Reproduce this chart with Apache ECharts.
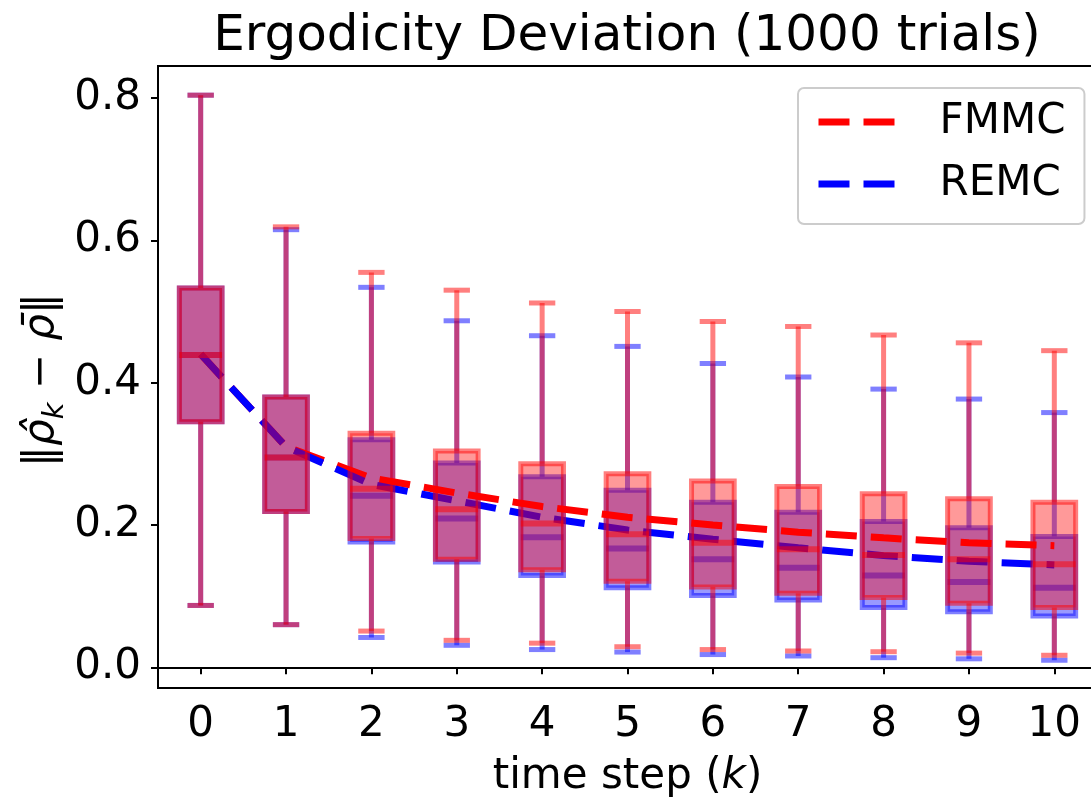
<!DOCTYPE html>
<html>
<head>
<meta charset="utf-8">
<script src="https://cdn.jsdelivr.net/npm/echarts@6/dist/echarts.min.js"></script>
<style>
  html, body { margin: 0; padding: 0; background: #fff; }
  #chart { width: 1091px; height: 801px; }
</style>
</head>
<body>
<div id="chart"></div>
<script>
const steps = ["0", "1", "2", "3", "4", "5", "6", "7", "8", "9", "10"];
const yTicks = [0, 0.2, 0.4, 0.6, 0.8];

// FMMC (red) box statistics per time step
const fmmcLow = [0.087, 0.060, 0.051, 0.038, 0.034, 0.029, 0.025, 0.023, 0.022, 0.020, 0.017];
const fmmcQ1 = [0.345, 0.219, 0.181, 0.152, 0.137, 0.121, 0.113, 0.104, 0.098, 0.090, 0.084];
const fmmcMedian = [0.439, 0.295, 0.251, 0.222, 0.202, 0.187, 0.175, 0.166, 0.158, 0.152, 0.145];
const fmmcQ3 = [0.533, 0.380, 0.329, 0.304, 0.286, 0.272, 0.262, 0.254, 0.244, 0.237, 0.232];
const fmmcHigh = [0.804, 0.619, 0.555, 0.530, 0.512, 0.500, 0.486, 0.479, 0.467, 0.456, 0.445];
const fmmcMean = [0.440, 0.310, 0.266, 0.245, 0.226, 0.211, 0.200, 0.190, 0.182, 0.175, 0.171];

// REMC (blue) box statistics per time step
const remcLow = [0.087, 0.060, 0.042, 0.031, 0.025, 0.0215, 0.018, 0.016, 0.0136, 0.012, 0.010];
const remcQ1 = [0.345, 0.219, 0.176, 0.148, 0.129, 0.112, 0.101, 0.0945, 0.084, 0.078, 0.072];
const remcMedian = [0.439, 0.295, 0.241, 0.209, 0.183, 0.167, 0.152, 0.140, 0.129, 0.120, 0.112];
const remcQ3 = [0.533, 0.380, 0.320, 0.287, 0.268, 0.249, 0.232, 0.218, 0.205, 0.196, 0.184];
const remcHigh = [0.804, 0.615, 0.534, 0.487, 0.466, 0.451, 0.427, 0.408, 0.391, 0.377, 0.358];
const remcMean = [0.440, 0.310, 0.257, 0.234, 0.211, 0.193, 0.180, 0.168, 0.157, 0.149, 0.144];

const FONT = "DejaVu Sans";

const toRows = (low, q1, med, q3, high) =>
  steps.map((s, i) => [i, low[i], q1[i], med[i], q3[i], high[i]]);

// box + whiskers drawn like matplotlib boxplot (half-transparent)
const boxRenderer = (rgb) => (params, api) => {
  const idx = api.value(0);
  const low = api.coord([idx, api.value(1)]);
  const q1 = api.coord([idx, api.value(2)]);
  const med = api.coord([idx, api.value(3)]);
  const q3 = api.coord([idx, api.value(4)]);
  const high = api.coord([idx, api.value(5)]);
  const band = api.size([1, 0])[0];
  const half = band * 0.25;
  const capHalf = band * 0.125;
  const cx = low[0];
  const edge = `rgba(${rgb},0.5)`;
  const fill = `rgba(${rgb},0.4)`;
  const line = (x1, y1, x2, y2, w) => ({
    type: "line",
    shape: { x1, y1, x2, y2 },
    style: { stroke: edge, lineWidth: w, lineCap: "butt" },
  });
  return {
    type: "group",
    children: [
      {
        type: "rect",
        shape: { x: cx - half, y: q3[1], width: half * 2, height: q1[1] - q3[1] },
        style: { fill, stroke: edge, lineWidth: 5 },
      },
      line(cx, q3[1], cx, high[1], 5),
      line(cx, q1[1], cx, low[1], 5),
      line(cx - capHalf - 2.5, high[1], cx + capHalf + 2.5, high[1], 5),
      line(cx - capHalf - 2.5, low[1], cx + capHalf + 2.5, low[1], 5),
      line(cx - half, med[1], cx + half, med[1], 6),
    ],
  };
};

const chart = echarts.init(document.getElementById("chart"), null, { renderer: "canvas" });

const option = {
  animation: false,
  backgroundColor: "#ffffff",
  textStyle: { fontFamily: FONT },
  grid: {
    left: 158,
    top: 66,
    width: 939,
    height: 622,
    show: true,
    borderColor: "#000",
    borderWidth: 2,
    backgroundColor: "transparent",
    outerBoundsMode: "none",
  },
  legend: {
    orient: "vertical",
    left: 798,
    top: 88,
    padding: [13, 19, 19, 17],
    itemGap: 20,
    itemWidth: 76,
    itemHeight: 16,
    backgroundColor: "rgba(255,255,255,0.8)",
    borderColor: "#cccccc",
    borderWidth: 2,
    borderRadius: 6,
    selectedMode: false,
    data: ["FMMC", "REMC"],
    itemStyle: { opacity: 0 },
    lineStyle: { width: 7, type: [31, 14] },
    textStyle: {
      fontFamily: FONT,
      fontSize: 42,
      color: "#000",
      lineHeight: 42,
      padding: [0, 0, 0, 40],
    },
  },
  xAxis: {
    type: "category",
    data: steps,
    boundaryGap: true,
    name: "time step ({i|k})",
    nameLocation: "middle",
    nameGap: 68,
    nameTextStyle: {
      fontFamily: FONT,
      fontSize: 42,
      color: "#000",
      rich: {
        i: { fontFamily: FONT, fontSize: 42, fontStyle: "italic", color: "#000" },
      },
    },
    axisLine: { show: true, lineStyle: { color: "#000", width: 2 } },
    axisTick: { show: true, alignWithLabel: true, length: 7, lineStyle: { color: "#000", width: 2 } },
    axisLabel: { fontFamily: FONT, fontSize: 42, color: "#000", margin: 16 },
    splitLine: { show: false },
  },
  yAxis: {
    type: "value",
    min: -0.029,
    max: 0.845,
    axisLine: { show: true, lineStyle: { color: "#000", width: 2 } },
    axisTick: {
      show: true,
      length: 7,
      customValues: yTicks,
      lineStyle: { color: "#000", width: 2 },
    },
    axisLabel: {
      fontFamily: FONT,
      fontSize: 42,
      color: "#000",
      margin: 17,
      customValues: yTicks,
      formatter: (v) => v.toFixed(1),
    },
    splitLine: { show: false },
  },
  series: [
    {
      name: "REMC box",
      type: "custom",
      renderItem: boxRenderer("0,0,255"),
      encode: { x: 0, y: [1, 2, 3, 4, 5] },
      data: toRows(remcLow, remcQ1, remcMedian, remcQ3, remcHigh),
      z: 2,
    },
    {
      name: "FMMC",
      type: "line",
      data: fmmcMean,
      symbol: "none",
      color: "#ff0000",
      lineStyle: { color: "#ff0000", width: 7, type: [31, 14] },
      z: 3,
    },
    {
      name: "REMC",
      type: "line",
      data: remcMean,
      symbol: "none",
      color: "#0000ff",
      lineStyle: { color: "#0000ff", width: 7, type: [31, 14] },
      z: 4,
    },
    {
      name: "FMMC box",
      type: "custom",
      renderItem: boxRenderer("255,0,0"),
      encode: { x: 0, y: [1, 2, 3, 4, 5] },
      data: toRows(fmmcLow, fmmcQ1, fmmcMedian, fmmcQ3, fmmcHigh),
      z: 5,
    },
  ],
  graphic: [
    {
      type: "text",
      x: 627,
      y: 37,
      style: {
        text: "Ergodicity Deviation (1000 trials)",
        fontFamily: FONT,
        fontSize: 50,
        fill: "#000",
        align: "center",
        verticalAlign: "middle",
      },
    },
    {
      type: "text",
      x: 42,
      y: 380,
      rotation: Math.PI / 2,
      style: {
        text: "{a|‖}{r|ρ\u0302}{s|k}{a| − }{r|ρ\u0304}{a|‖}",
        align: "center",
        verticalAlign: "middle",
        rich: {
          a: { fontFamily: FONT, fontSize: 42, fill: "#000", lineHeight: 56, verticalAlign: "middle" },
          r: { fontFamily: FONT, fontSize: 42, fontStyle: "italic", fill: "#000", lineHeight: 56, verticalAlign: "middle" },
          s: { fontFamily: FONT, fontSize: 29, fontStyle: "italic", fill: "#000", lineHeight: 30, verticalAlign: "bottom" },
        },
      },
    },
  ],
};

chart.setOption(option);
window.addEventListener("resize", () => chart.resize());
</script>
</body>
</html>
